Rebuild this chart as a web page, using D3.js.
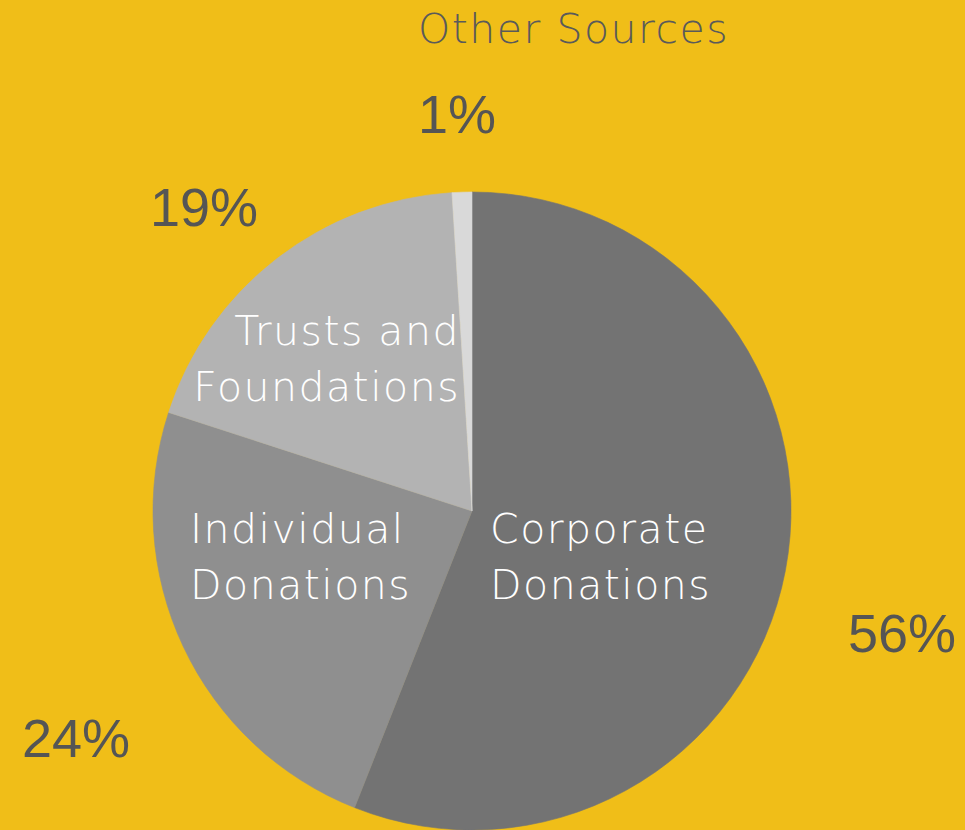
<!DOCTYPE html>
<html>
<head>
<meta charset="utf-8">
<script src="https://cdn.jsdelivr.net/npm/d3@7"></script>
<style>
  html, body { margin: 0; padding: 0; background: #f0be18; }
  svg { display: block; }
</style>
</head>
<body>
<svg id="chart"></svg>
<script>
// data
var categories = ["Corporate Donations", "Individual Donations", "Trusts and Foundations", "Other Sources"];
var values = [56, 24, 19, 1];
var sliceColors = ["#737373", "#8f8f8f", "#b3b3b3", "#d9d9d9"];

var width = 965;
var height = 830;
var cx = 472, cy = 511;
var radius = 319;

var svg = d3.select("#chart")
    .attr("width", width)
    .attr("height", height);

svg.append("rect")
    .attr("width", width)
    .attr("height", height)
    .attr("fill", "#f0be18");

var g = svg.append("g")
    .attr("transform", "translate(" + cx + "," + cy + ")");

var pie = d3.pie().sort(null).value(function(d) { return d; });
var arcs = pie(values);

g.selectAll("path.slice")
    .data(arcs)
    .enter()
    .append("path")
    .attr("class", "slice")
    .attr("d", d3.arc().innerRadius(0).outerRadius(radius))
    .attr("fill", function(d, i) { return sliceColors[i]; })
    .attr("stroke", function(d, i) { return sliceColors[i]; })
    .attr("stroke-width", 0.6);

// category labels (inside, white, except "Other Sources" outside)
var labelFont = "'DejaVu Sans', sans-serif";
var nameLabels = [
    { lines: ["Corporate", "Donations"], x: 490, y: 543, anchor: "start", color: "#ffffff" },
    { lines: ["Individual", "Donations"], x: 190, y: 543, anchor: "start", color: "#ffffff" },
    { lines: ["Trusts and", "Foundations"], x: 460, y: 345, anchor: "end", color: "#ffffff" },
    { lines: ["Other Sources"], x: 418, y: 43, anchor: "start", color: "#5a5a5a" }
];

nameLabels.forEach(function(l) {
    var t = svg.append("text")
        .attr("x", l.x)
        .attr("y", l.y)
        .attr("text-anchor", l.anchor)
        .style("font-family", labelFont)
        .style("font-weight", 200)
        .style("font-size", "41px")
        .style("letter-spacing", "1.5px")
        .attr("fill", l.color);
    l.lines.forEach(function(s, k) {
        t.append("tspan")
            .attr("x", l.x)
            .attr("dy", k === 0 ? 0 : 56)
            .text(s);
    });
});

// percent labels
var pctPos = [
    { x: 848, y: 652 },
    { x: 22, y: 757 },
    { x: 150, y: 226 },
    { x: 418, y: 133 }
];

svg.selectAll("text.pct")
    .data(values)
    .enter()
    .append("text")
    .attr("class", "pct")
    .attr("x", function(d, i) { return pctPos[i].x; })
    .attr("y", function(d, i) { return pctPos[i].y; })
    .style("font-family", "'Liberation Sans', Arial, sans-serif")
    .style("font-size", "54px")
    .attr("fill", "#555555")
    .text(function(d) { return d + "%"; });
</script>
</body>
</html>
